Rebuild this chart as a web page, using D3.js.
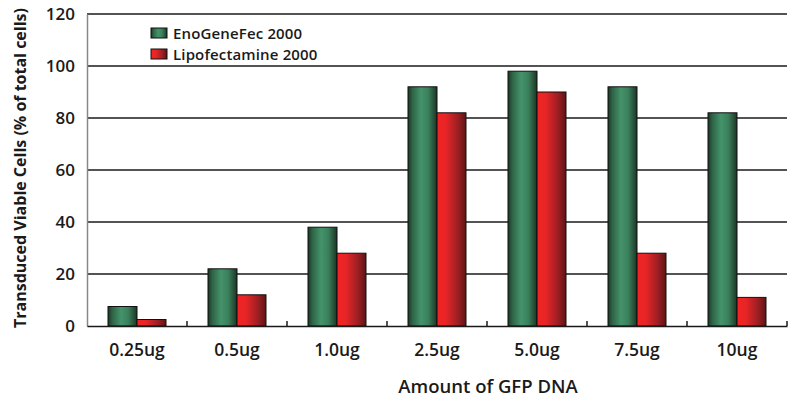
<!DOCTYPE html>
<html>
<head>
<meta charset="utf-8">
<script src="https://cdn.jsdelivr.net/npm/d3@7"></script>
<style>
  body { margin: 0; background: #fff; }
  text { font-family: "Open Sans", "Liberation Sans", Arial, sans-serif; fill: #1a1a1a; }
</style>
</head>
<body>
<div id="chart"></div>
<script>
var categories = ["0.25ug", "0.5ug", "1.0ug", "2.5ug", "5.0ug", "7.5ug", "10ug"];
var enoValues = [7.5, 22, 38, 92, 98, 92, 82];
var lipoValues = [2.5, 12, 28, 82, 90, 28, 11];
var seriesNames = ["EnoGeneFec 2000", "Lipofectamine 2000"];
var yTicks = [0, 20, 40, 60, 80, 100, 120];

var width = 796, height = 401;
var margin = {top: 14, right: 9, bottom: 75, left: 87};
var w = width - margin.left - margin.right,
    h = height - margin.top - margin.bottom;

var svg = d3.select("#chart").append("svg")
    .attr("width", width)
    .attr("height", height);

var defs = svg.append("defs");
var gGreen = defs.append("linearGradient").attr("id", "gradGreen");
[[0, "#1c3526"], [0.15, "#2e6446"], [0.45, "#44936b"], [0.7, "#3a7f5b"], [1, "#1c3526"]]
    .forEach(function (s) { gGreen.append("stop").attr("offset", s[0]).attr("stop-color", s[1]); });
var gRed = defs.append("linearGradient").attr("id", "gradRed");
[[0, "#f02424"], [0.3, "#e82526"], [0.7, "#a01f24"], [1, "#5e1414"]]
    .forEach(function (s) { gRed.append("stop").attr("offset", s[0]).attr("stop-color", s[1]); });

var g = svg.append("g")
    .attr("transform", "translate(" + margin.left + "," + margin.top + ")");

var x = d3.scaleBand().domain(categories).range([0, w]);
var y = d3.scaleLinear().domain([0, 120]).range([h, 0]);
var barW = 29;

// gridlines
g.selectAll(".grid")
    .data(yTicks.slice(1))
    .enter().append("line")
    .attr("x1", 0).attr("x2", w)
    .attr("y1", function (d) { return y(d); })
    .attr("y2", function (d) { return y(d); })
    .attr("stroke", "#1a1a1a")
    .attr("stroke-width", 1.3);

// y axis
var yAxis = g.append("g")
    .call(d3.axisLeft(y).tickValues(yTicks).tickSize(0).tickPadding(12));
yAxis.select(".domain").attr("stroke", "#888").attr("stroke-width", 1.5);
yAxis.selectAll("text").style("font-size", "17px").style("font-weight", "600").attr("fill", "#1a1a1a");

// bars
var data = categories.map(function (c, i) {
    return {cat: c, vals: [enoValues[i], lipoValues[i]]};
});
var groups = g.selectAll(".grp")
    .data(data)
    .enter().append("g")
    .attr("transform", function (d) {
        return "translate(" + (x(d.cat) + x.bandwidth() / 2 - barW) + ",0)";
    });
groups.selectAll("rect")
    .data(function (d) { return d.vals; })
    .enter().append("rect")
    .attr("x", function (d, i) { return i * barW; })
    .attr("y", function (d) { return y(d); })
    .attr("width", barW)
    .attr("height", function (d) { return h - y(d); })
    .attr("fill", function (d, i) { return i === 0 ? "url(#gradGreen)" : "url(#gradRed)"; })
    .attr("stroke", "#111")
    .attr("stroke-width", 1);

// x axis
var xAxis = g.append("g")
    .attr("transform", "translate(0," + h + ")")
    .call(d3.axisBottom(x).tickSize(0).tickPadding(18));
xAxis.select(".domain").attr("stroke", "#1a1a1a").attr("stroke-width", 1.5);
xAxis.selectAll("text").style("font-size", "17.5px").style("font-weight", "600").attr("fill", "#1a1a1a");
xAxis.selectAll(".sep")
    .data(categories.slice(1).concat(["end"]))
    .enter().append("line")
    .attr("x1", function (d, i) { return x.bandwidth() * (i + 1); })
    .attr("x2", function (d, i) { return x.bandwidth() * (i + 1); })
    .attr("y1", -5).attr("y2", 0)
    .attr("stroke", "#1a1a1a").attr("stroke-width", 1.5);

// axis titles
svg.append("text")
    .attr("transform", "translate(26,168) rotate(-90)")
    .attr("text-anchor", "middle")
    .style("font-size", "16px")
    .style("font-weight", "bold")
    .text("Transduced Viable Cells (% of total cells)");
svg.append("text")
    .attr("x", 488)
    .attr("y", 393)
    .attr("text-anchor", "middle")
    .style("font-size", "18.5px")
    .style("font-weight", "600")
    .text("Amount of GFP DNA");

// legend
var legend = svg.append("g").attr("transform", "translate(151,28)");
seriesNames.forEach(function (name, i) {
    var row = legend.append("g").attr("transform", "translate(0," + i * 21 + ")");
    row.append("rect")
        .attr("width", 16).attr("height", 10)
        .attr("fill", i === 0 ? "url(#gradGreen)" : "url(#gradRed)")
        .attr("stroke", "#111").attr("stroke-width", 1);
    row.append("text")
        .attr("x", 22).attr("y", 11)
        .style("font-size", "15px")
        .style("font-weight", "600")
        .style("letter-spacing", "0.15px")
        .text(name);
});
</script>
</body>
</html>
